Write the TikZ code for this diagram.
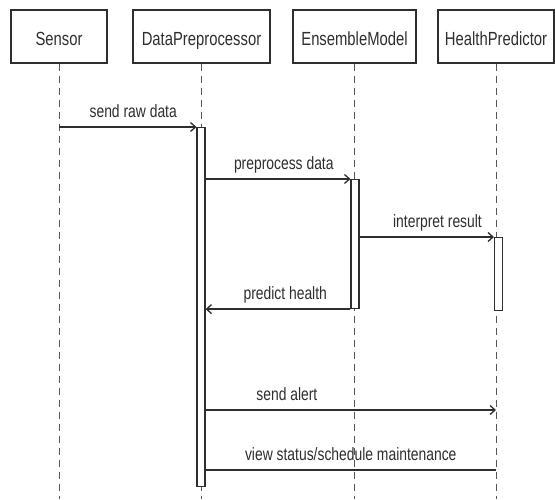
\documentclass[tikz,border=0pt]{standalone}
\usepackage{fontspec}
\setmainfont{Liberation Sans}[FakeStretch=0.78]
\usepackage{tikz}
\usetikzlibrary{positioning,arrows.meta}

\definecolor{ink}{HTML}{2E2E2E}
\definecolor{dashgray}{HTML}{555555}

\tikzset{
  actor/.style={draw=ink, line width=1.1pt, text=ink, minimum height=53pt,
    text height=17pt, text depth=0pt, font=\fontsize{19}{22}\selectfont},
  lifeline/.style={draw=dashgray, line width=0.9pt, dash pattern=on 7pt off 5pt},
  bar/.style={draw=ink, fill=white, line width=1.1pt, minimum width=8pt,
    inner sep=0pt, anchor=north},
  msg/.style={draw=ink, line width=1.3pt, -{Straight Barb[length=5pt,width=9pt,line width=1.3pt]}},
  plainmsg/.style={draw=ink, line width=1.3pt},
  msglabel/.style={anchor=base, yshift=10pt, text=ink, inner sep=0pt,
    font=\fontsize{17.8}{20}\selectfont}
}

\begin{document}
\begin{tikzpicture}[x=1pt, y=-1pt]
  \useasboundingbox (0,0) rectangle (555,499);

  % participants
  \node[actor, minimum width=96pt]  (Sensor) at (59,36.5) {Sensor};
  \node[actor, minimum width=137pt] (DataPreprocessor) at (201.5,36.5) {DataPreprocessor};
  \node[actor, minimum width=123pt] (EnsembleModel) at (354.5,36.5) {EnsembleModel};
  \node[actor, minimum width=116pt] (HealthPredictor) at (496,36.5) {HealthPredictor};

  \coordinate (bottom) at (0,499);

  % lifelines
  \foreach \who in {Sensor, DataPreprocessor, EnsembleModel, HealthPredictor}
    \draw[lifeline] (\who.south) -- (\who |- bottom);

  % activation bars
  \node[bar, minimum height=359pt] (DPbar) at (201,127) {};
  \node[bar, minimum height=129pt] (EMbar) at (355,179) {};
  \node[bar, minimum height=73pt]  (HPbar) at (498.5,237) {};

  \coordinate (alert) at (0,410);
  \coordinate (view) at (0,470);

  % messages
  \draw[msg] (Sensor |- DPbar.north) -- (DPbar.north west)
    node[msglabel, pos=.54] {send raw data};
  \draw[msg] (DPbar.east |- EMbar.north) -- (EMbar.north west)
    node[msglabel, pos=.54] {preprocess data};
  \draw[msg] (EMbar.east |- HPbar.north) -- (HPbar.north west)
    node[msglabel, pos=.58] {interpret result};
  \draw[msg] (EMbar.south west) -- (DPbar.east |- EMbar.south)
    node[msglabel, pos=.45] {predict health};
  \draw[msg] (DPbar.east |- alert) -- (HealthPredictor |- alert)
    node[msglabel, pos=.28] {send alert};
  \draw[plainmsg] (DPbar.east |- view) -- (HealthPredictor |- view)
    node[msglabel, pos=.5] {view status/schedule maintenance};
\end{tikzpicture}
\end{document}
